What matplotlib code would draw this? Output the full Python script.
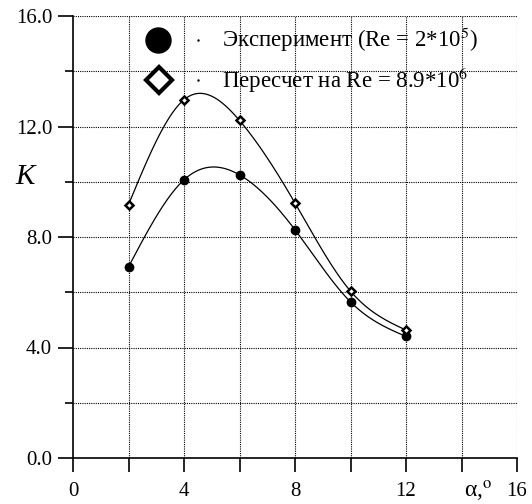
import matplotlib
matplotlib.use('Agg')
import matplotlib.pyplot as plt
import numpy as np

plt.rcParams['font.family'] = ['Liberation Serif', 'DejaVu Serif']
plt.rcParams['mathtext.fontset'] = 'stix'

# угол атаки, град
alpha = [2, 4, 6, 8, 10, 12]
# эксперимент, Re = 2*10^5
k_exp = [6.92, 10.07, 10.25, 8.26, 5.65, 4.40]
# пересчет на Re = 8.9*10^6
k_re = [9.17, 12.97, 12.22, 9.23, 6.04, 4.63]

label_exp = 'Эксперимент (Re = 2*10$^5$)'
label_re = 'Пересчет на Re = 8.9*10$^6$'


def natural_spline(x, y, n=300):
    # естественный кубический сплайн через узлы
    x = np.asarray(x, float)
    y = np.asarray(y, float)
    h = np.diff(x)
    m = len(x)
    A = np.zeros((m, m))
    b = np.zeros(m)
    A[0, 0] = A[-1, -1] = 1.0
    for i in range(1, m - 1):
        A[i, i - 1] = h[i - 1]
        A[i, i] = 2 * (h[i - 1] + h[i])
        A[i, i + 1] = h[i]
        b[i] = 6 * ((y[i + 1] - y[i]) / h[i] - (y[i] - y[i - 1]) / h[i - 1])
    M = np.linalg.solve(A, b)
    xs = np.linspace(x[0], x[-1], n)
    idx = np.clip(np.searchsorted(x, xs) - 1, 0, m - 2)
    x0, x1 = x[idx], x[idx + 1]
    hh = x1 - x0
    ys = (M[idx] * (x1 - xs) ** 3 + M[idx + 1] * (xs - x0) ** 3) / (6 * hh) \
        + (y[idx] / hh - M[idx] * hh / 6) * (x1 - xs) \
        + (y[idx + 1] / hh - M[idx + 1] * hh / 6) * (xs - x0)
    return xs, ys


fig = plt.figure(figsize=(5.32, 5.04), dpi=100)
ax = fig.add_axes([73 / 532, 1 - 458 / 504, 444 / 532, 442 / 504])

ax.set_xlim(0, 16)
ax.set_ylim(0, 16)

xs, ys = natural_spline(alpha, k_re)
ax.plot(xs, ys, color='black', lw=0.9)
xs, ys = natural_spline(alpha, k_exp)
ax.plot(xs, ys, color='black', lw=0.9)

ax.plot(alpha, k_exp, 'o', ms=6, color='black', zorder=5)
ax.plot(alpha, k_re, 'D', ms=4.2, mfc='white', mec='black', mew=1.8, zorder=5)

# сетка
for v in np.arange(2, 17, 2):
    ax.axvline(v, color='black', lw=0.8, ls=(0, (1, 1)), zorder=1)
    ax.axhline(v, color='black', lw=0.8, ls=(0, (1, 1)), zorder=1)

ax.spines['top'].set_visible(False)
ax.spines['right'].set_visible(False)
ax.spines['left'].set_linewidth(1.2)
ax.spines['bottom'].set_linewidth(1.2)

ax.set_xticks(np.arange(0, 17, 2))
ax.set_xticklabels(['0', '', '4', '', '8', '', '12', '', '16'])
ax.set_yticks([0, 4, 8, 12, 16])
ax.set_yticklabels(['0.0', '4.0', '8.0', '12.0', '16.0'])
ax.set_yticks([2, 6, 10, 14], minor=True)
ax.tick_params(axis='y', which='major', direction='out', length=11,
               width=1.2, labelsize=15, pad=4)
ax.tick_params(axis='y', which='minor', direction='out', length=6, width=1.2)
ax.tick_params(axis='x', which='major', direction='out', length=10,
               width=1.2, labelsize=15, pad=7)

ax.text(-0.107, 0.635, 'K', transform=ax.transAxes, fontsize=21,
        style='italic', ha='center', va='center')
ax.text(14.6, -0.075, 'α,$^{\\rm o}$', transform=ax.get_xaxis_transform(),
        fontsize=17, ha='center', va='center')

# легенда
ax.plot([0.191], [0.946], 'o', ms=18, color='black',
        transform=ax.transAxes, clip_on=False)
ax.plot([0.194], [0.855], 'D', ms=13, mfc='white', mec='black', mew=3,
        transform=ax.transAxes, clip_on=False)
ax.plot([0.282, 0.282], [0.946, 0.855], '.', ms=1.5, color='black',
        transform=ax.transAxes)
ax.text(0.336, 0.946, label_exp, transform=ax.transAxes, fontsize=16.5,
        va='center', ha='left')
ax.text(0.336, 0.855, label_re, transform=ax.transAxes, fontsize=16.5,
        va='center', ha='left')

fig.savefig('out.png', dpi=100, facecolor='white')
